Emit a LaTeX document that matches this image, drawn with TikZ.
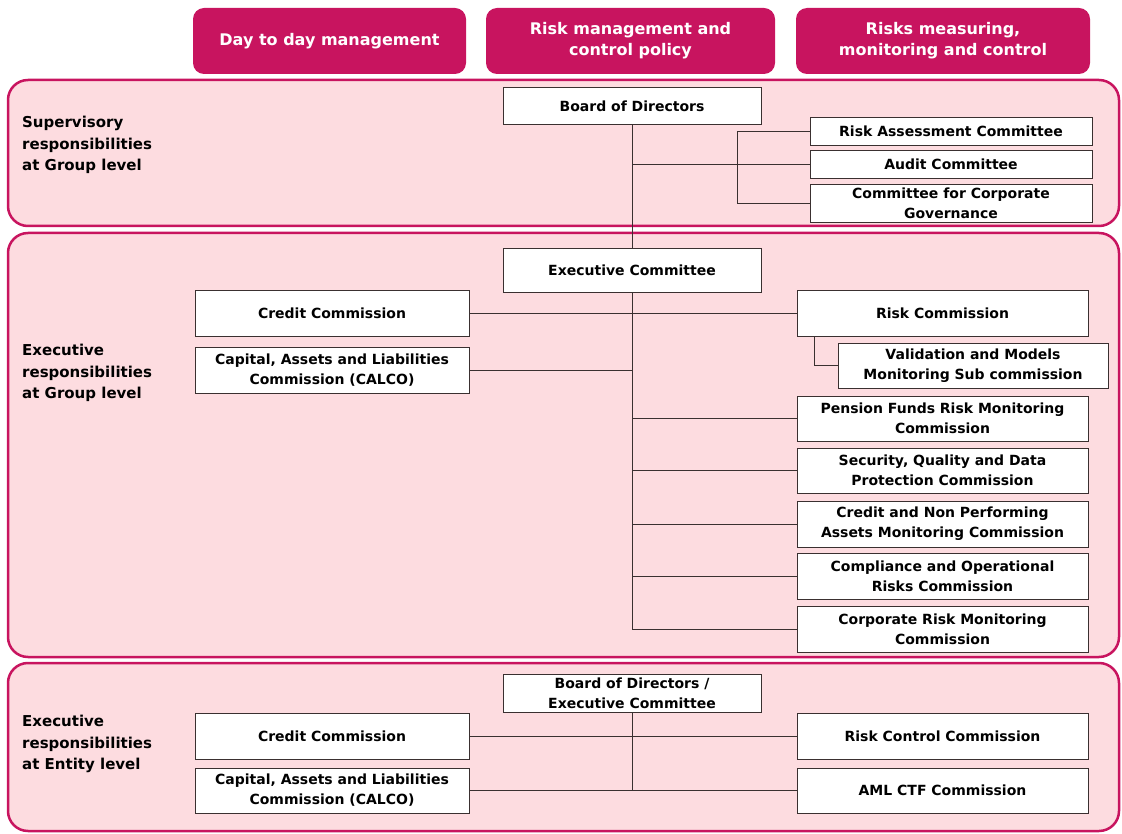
\documentclass[tikz,border=0pt]{standalone}
\usepackage{fontspec}
\setmainfont{DejaVu Sans}
\usetikzlibrary{positioning}
\definecolor{crimson}{HTML}{C8145F}
\definecolor{panelpink}{HTML}{FDDCE0}
\definecolor{linegray}{HTML}{3A3030}
\tikzset{
	head/.style={fill=crimson, text=white, rounded corners=11pt, align=center, inner sep=0pt,
		font=\bfseries\fontsize{16}{21}\selectfont},
	panel/.style={draw=crimson, fill=panelpink, line width=2.5pt, rounded corners=20pt},
	level/.style={anchor=west, align=left, inner sep=0pt,
		font=\bfseries\fontsize{15}{21.5}\selectfont},
	unit/.style={draw=linegray, fill=white, align=center, inner sep=1pt, line width=0.8pt,
		font=\bfseries\fontsize{14}{20}\selectfont},
	link/.style={draw=linegray, line width=0.9pt},
}

\begin{document}
\begin{tikzpicture}[x=1pt, y=-1pt]
	\useasboundingbox (0,0) rectangle (1122,834);

	\node[head, minimum width=273pt, minimum height=66pt] (dayhead) at (329.5,41) {Day to day management};
	\node[head, minimum width=289pt, minimum height=66pt] (policyhead) at (630.5,41) {Risk management and\\control policy};
	\node[head, minimum width=294pt, minimum height=66pt] (controlhead) at (943,41) {Risks measuring,\\monitoring and control};

	\draw[panel] (8,80) rectangle (1119,226);
	\draw[panel] (8,233) rectangle (1119,657);
	\draw[panel] (8,663) rectangle (1119,831);

	\node[level] (suplevel) at (22,145) {Supervisory\\responsibilities\\at Group level};
	\node[level] (grouplevel) at (22,373) {Executive\\responsibilities\\at Group level};
	\node[level] (entitylevel) at (22,744) {Executive\\responsibilities\\at Entity level};

	\node[unit, minimum width=258pt, minimum height=37pt] (board) at (632,106) {Board of Directors};
	\node[unit, minimum width=282pt, minimum height=28pt] (assess) at (951,131) {Risk Assessment Committee};
	\node[unit, minimum width=282pt, minimum height=28pt] (audit) at (951,164) {Audit Committee};
	\node[unit, minimum width=282pt, minimum height=38pt] (govern) at (951,203) {Committee for Corporate\\Governance};

	\node[unit, minimum width=258pt, minimum height=44pt] (excom) at (632,270) {Executive Committee};
	\node[unit, minimum width=274pt, minimum height=46pt] (credit) at (332,313) {Credit Commission};
	\node[unit, minimum width=274pt, minimum height=46pt] (calco) at (332,370) {Capital, Assets and Liabilities\\Commission (CALCO)};
	\node[unit, minimum width=291pt, minimum height=46pt] (riskcom) at (942.5,313) {Risk Commission};
	\node[unit, minimum width=270pt, minimum height=45pt] (valid) at (973,365.5) {Validation and Models\\Monitoring Sub commission};
	\node[unit, minimum width=291pt, minimum height=45pt] (pension) at (942.5,418.5) {Pension Funds Risk Monitoring\\Commission};
	\node[unit, minimum width=291pt, minimum height=45pt] (security) at (942.5,470.5) {Security, Quality and Data\\Protection Commission};
	\node[unit, minimum width=291pt, minimum height=46pt] (nonperf) at (942.5,524) {Credit and Non Performing\\Assets Monitoring Commission};
	\node[unit, minimum width=291pt, minimum height=46pt] (compliance) at (942.5,576) {Compliance and Operational\\Risks Commission};
	\node[unit, minimum width=291pt, minimum height=46pt] (corporate) at (942.5,629) {Corporate Risk Monitoring\\Commission};

	\node[unit, minimum width=258pt, minimum height=38pt] (entboard) at (632,693) {Board of Directors /\\Executive Committee};
	\node[unit, minimum width=274pt, minimum height=46pt] (entcredit) at (332,736) {Credit Commission};
	\node[unit, minimum width=274pt, minimum height=45pt] (entcalco) at (332,790.5) {Capital, Assets and Liabilities\\Commission (CALCO)};
	\node[unit, minimum width=291pt, minimum height=46pt] (riskctrl) at (942.5,736) {Risk Control Commission};
	\node[unit, minimum width=291pt, minimum height=45pt] (amlctf) at (942.5,790.5) {AML CTF Commission};

	\coordinate (bracket) at (737,131);

	\draw[link] (board.south) -- (excom.north);
	\draw[link] (board.south |- audit.west) -- (audit.west);
	\draw[link] (assess.west) -- (bracket) |- (govern.west);

	\draw[link] (excom.south) -- (excom.south |- corporate.west);
	\draw[link] (credit.east) -- (riskcom.west);
	\draw[link] (calco.east) -- (excom.south |- calco.east);
	\draw[link] ([xshift=18pt]riskcom.south west) |- (valid.west);
	\draw[link] (excom.south |- pension.west) -- (pension.west);
	\draw[link] (excom.south |- security.west) -- (security.west);
	\draw[link] (excom.south |- nonperf.west) -- (nonperf.west);
	\draw[link] (excom.south |- compliance.west) -- (compliance.west);
	\draw[link] (excom.south |- corporate.west) -- (corporate.west);

	\draw[link] (entboard.south) -- (entboard.south |- amlctf.west);
	\draw[link] (entcredit.east) -- (riskctrl.west);
	\draw[link] (entcalco.east) -- (amlctf.west);
\end{tikzpicture}
\end{document}
